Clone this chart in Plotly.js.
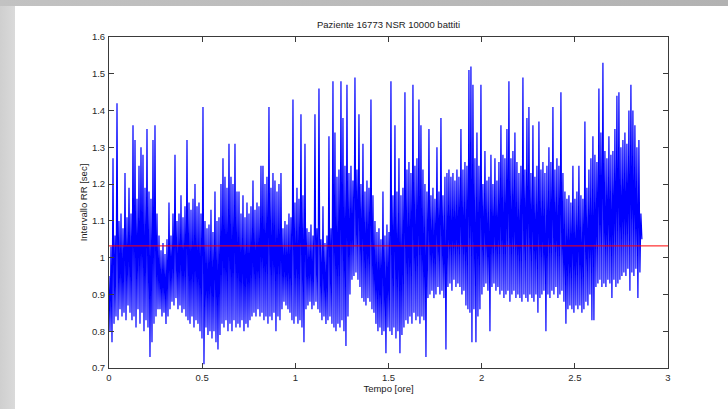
<!DOCTYPE html>
<html>
<head>
<meta charset="utf-8">
<script src="https://cdn.plot.ly/plotly-3.0.1.min.js"></script>
<style>
html,body{margin:0;padding:0;width:728px;height:409px;overflow:hidden;background:#d6d6d6;}
#topband{position:absolute;left:0;top:0;width:728px;height:6px;background:linear-gradient(to right,#c2c2c2,#b2b2b2);}
#leftband{position:absolute;left:0;top:6px;width:15px;height:403px;background:linear-gradient(to right,#cfcfcf,#dadada);}
#plot{position:absolute;left:15px;top:6px;width:713px;height:403px;background:#fff;}
</style>
</head>
<body>
<div id="topband"></div>
<div id="leftband"></div>
<div id="plot"></div>
<script>
// Chart text
const chartTitle = "Paziente 16773 NSR 10000 battiti";
const xTitle = "Tempo [ore]";
const yTitle = "Intervallo RR [sec]";
const xTicks = [0, 0.5, 1, 1.5, 2, 2.5, 3];
const yTicks = [0.7, 0.8, 0.9, 1, 1.1, 1.2, 1.3, 1.4, 1.5, 1.6];

// Recording duration (hours) and mean RR (red line)
const tEnd = 2.86;
const meanRR = 1.032;

// RR intervals (s) (alternating local max / min)
const rr = [
0.95,0.80,1.03,0.77,1.27,0.82,1.06,0.84,1.42,0.83,
1.10,0.86,1.12,0.84,1.08,0.85,1.23,0.83,1.11,0.87,
1.19,0.85,1.12,0.83,1.36,0.84,1.32,0.81,1.16,0.86,
1.25,0.82,1.30,0.85,1.28,0.80,1.19,0.83,1.35,0.81,
1.18,0.73,1.16,0.77,1.32,0.82,1.36,0.84,1.12,0.86,
1.06,0.86,1.02,0.84,1.04,0.85,1.01,0.82,1.05,0.84,
1.15,0.86,1.06,0.88,1.12,0.87,1.28,0.89,1.10,0.86,
1.12,0.87,1.17,0.85,1.11,0.86,1.14,0.84,1.32,0.83,
1.15,0.82,1.13,0.84,1.16,0.81,1.20,0.83,1.14,0.82,
1.15,0.80,1.12,0.78,1.41,0.71,1.10,0.81,1.08,0.79,
1.09,0.80,1.13,0.78,1.07,0.80,1.18,0.77,1.10,0.75,
1.11,0.79,1.20,0.82,1.27,0.81,1.22,0.83,1.19,0.80,
1.31,0.82,1.22,0.80,1.20,0.83,1.31,0.81,1.18,0.82,
1.18,0.81,1.12,0.83,1.17,0.80,1.11,0.82,1.15,0.81,
1.12,0.83,1.14,0.84,1.21,0.85,1.13,0.84,1.15,0.86,
1.14,0.84,1.25,0.85,1.25,0.83,1.20,0.84,1.22,0.82,
1.41,0.84,1.19,0.83,1.23,0.85,1.21,0.80,1.18,0.84,
1.20,0.83,1.23,0.86,1.08,0.88,1.10,0.87,1.09,0.86,
1.12,0.85,1.11,0.83,1.43,0.82,1.15,0.84,1.19,0.82,
1.16,0.83,1.39,0.81,1.17,0.77,1.31,0.86,1.08,0.87,
1.07,0.88,1.09,0.86,1.06,0.87,1.39,0.88,1.08,0.86,
1.46,0.85,1.05,0.83,1.14,0.84,1.04,0.82,1.06,0.83,
1.33,0.84,1.08,0.82,1.48,0.81,1.34,0.80,1.22,0.82,
1.24,0.81,1.48,0.83,1.38,0.80,1.25,0.76,1.47,0.84,
1.23,0.90,1.25,0.94,1.21,0.95,1.49,0.96,1.24,0.94,
1.39,0.92,1.20,0.89,1.31,0.88,1.18,0.87,1.21,0.89,
1.19,0.88,1.43,0.86,1.17,0.85,1.10,0.82,1.07,0.80,
1.08,0.81,1.05,0.79,1.18,0.80,1.06,0.74,1.09,0.81,
1.07,0.80,1.48,0.79,1.17,0.81,1.36,0.78,1.18,0.80,
1.27,0.74,1.17,0.79,1.19,0.81,1.45,0.83,1.24,0.82,
1.26,0.84,1.23,0.82,1.47,0.85,1.25,0.83,1.27,0.84,
1.43,0.82,1.36,0.84,1.24,0.83,1.20,0.73,1.18,0.89,
1.35,0.90,1.17,0.91,1.19,0.89,1.16,0.90,1.30,0.92,
1.18,0.90,1.38,0.91,1.17,0.89,1.22,0.75,1.23,0.92,
1.24,0.93,1.22,0.91,1.23,0.94,1.21,0.92,1.24,0.93,
1.22,0.92,1.35,0.90,1.24,0.91,1.26,0.87,1.25,0.86,
1.51,0.85,1.52,0.77,1.47,0.86,1.27,0.77,1.34,0.84,
1.25,0.86,1.47,0.90,1.20,0.92,1.29,0.93,1.21,0.91,
1.22,0.80,1.28,0.92,1.20,0.93,1.27,0.91,1.21,0.92,
1.26,0.90,1.36,0.91,1.28,0.89,1.27,0.90,1.35,0.91,
1.48,0.88,1.27,0.90,1.29,0.91,1.34,0.89,1.26,0.90,
1.23,0.89,1.25,0.88,1.49,0.90,1.24,0.89,1.38,0.88,
1.41,0.90,1.23,0.89,1.36,0.88,1.22,0.90,1.25,0.85,
1.37,0.89,1.24,0.90,1.26,0.91,1.23,0.80,1.25,0.90,
1.30,0.89,1.26,0.91,1.41,0.90,1.24,0.92,1.27,0.89,
1.25,0.90,1.45,0.91,1.23,0.88,1.18,0.82,1.16,0.86,
1.17,0.87,1.15,0.86,1.25,0.85,1.16,0.87,1.18,0.86,
1.25,0.87,1.17,0.85,1.16,0.86,1.37,0.88,1.19,0.87,
1.24,0.90,1.27,0.83,1.33,0.83,1.28,0.92,1.26,0.93,
1.46,0.94,1.34,0.92,1.53,0.93,1.29,0.92,1.27,0.94,
1.33,0.93,1.28,0.89,1.29,0.94,1.35,0.92,1.44,0.93,
1.45,0.94,1.30,0.95,1.32,0.96,1.34,0.95,1.31,0.97,
1.40,0.91,1.47,0.96,1.40,0.95,1.36,0.97,1.30,0.89,
1.32,0.96,1.12,1.05
];

const n = rr.length;
const t = rr.map((_, i) => i * tEnd / (n - 1));

const axisColor = '#3a3a3a';
const fontFamily = 'Liberation Sans, Arial, sans-serif';

const traces = [
  {x: t, y: rr, type: 'scatter', mode: 'lines',
   line: {color: '#0000ff', width: 1.2}, hoverinfo: 'skip'},
  {x: [xTicks[0], xTicks[xTicks.length - 1]], y: [meanRR, meanRR], type: 'scatter', mode: 'lines',
   line: {color: '#ff0000', width: 1}, hoverinfo: 'skip'}
];

const layout = {
  width: 713, height: 403,
  margin: {l: 94, r: 60, t: 31, b: 41, pad: 0},
  paper_bgcolor: '#ffffff', plot_bgcolor: '#ffffff',
  showlegend: false,
  font: {family: fontFamily, size: 9.5, color: '#2a2a2a'},
  title: {text: chartTitle, x: 0.5, xref: 'paper', xanchor: 'center', y: 1, yref: 'container', yanchor: 'top', pad: {t: 15},
          font: {family: fontFamily, size: 9.5, color: '#1a1a1a'}},
  xaxis: {
    range: [0, 3], tickvals: xTicks, ticktext: xTicks.map(String),
    showline: true, linecolor: axisColor, linewidth: 1, mirror: 'ticks',
    ticks: 'inside', ticklen: 5, tickcolor: axisColor, tickwidth: 1,
    showgrid: false, zeroline: false, ticklabelstandoff: 1,
    title: {text: xTitle, standoff: 1, font: {family: fontFamily, size: 9.5, color: '#1a1a1a'}},
    fixedrange: true
  },
  yaxis: {
    range: [0.7, 1.6], tickvals: yTicks, ticktext: yTicks.map(String),
    showline: true, linecolor: axisColor, linewidth: 1, mirror: 'ticks',
    ticks: 'inside', ticklen: 5, tickcolor: axisColor, tickwidth: 1,
    showgrid: false, zeroline: false, ticklabelstandoff: 1,
    title: {text: yTitle, standoff: 2, font: {family: fontFamily, size: 9.5, color: '#1a1a1a'}},
    fixedrange: true
  }
};

Plotly.newPlot('plot', traces, layout, {staticPlot: true, displayModeBar: false});
</script>
</body>
</html>
